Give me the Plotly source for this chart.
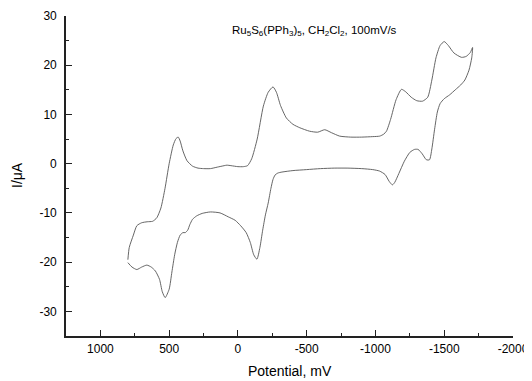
import plotly.graph_objects as go

# Cyclic voltammogram: potential (mV) and current (uA)
potential = [800, 790, 760, 735, 700, 660, 620, 590, 560, 530, 500, 470, 450, 434, 420, 400, 370,
             330, 290, 250, 200, 150, 100, 80, 50, 0, -40, -70, -100, -140, -185, -220, -255,
             -280, -310, -352, -400, -450, -521, -580, -631, -680, -740, -820, -900, -980, -1031,
             -1060, -1080, -1110, -1150, -1189, -1220, -1260, -1300, -1342, -1380, -1410, -1440,
             -1470, -1500, -1530, -1570, -1626, -1660, -1690, -1706,
             -1700, -1680, -1650, -1620, -1580, -1540, -1500, -1470, -1450, -1430, -1410, -1393,
             -1370, -1340, -1310, -1284, -1250, -1210, -1170, -1140, -1123, -1100, -1070, -1030,
             -980, -900, -800, -700, -600, -500, -400, -320, -290, -270, -255, -240, -220, -200,
             -180, -160, -138, -115, -90, -60, -20, 20, 70, 130, 200, 260, 300, 330, 350, 365, 383,
             400, 420, 440, 460, 480, 500, 529, 550, 570, 600, 630, 662, 700, 735, 770, 800]
current = [-19.5, -17.0, -14.5, -12.6, -12.0, -11.8, -11.7, -11.0, -9.0, -5.0, 0.0, 3.8, 5.1, 5.4, 4.6, 2.6, 0.6,
           -0.5, -0.9, -1.0, -1.0, -0.7, -0.4, -0.3, -0.4, -0.6, -0.6, -0.4, 1.0, 5.0, 11.7, 14.5, 15.6,
           14.5, 11.8, 9.3, 8.0, 7.3, 6.6, 6.4, 6.9, 6.3, 5.6, 5.4, 5.4, 5.5, 5.6,
           6.0, 6.6, 9.0, 13.0, 15.1, 14.6, 13.5, 12.8, 12.7, 13.5, 17.0, 21.5,
           24.0, 24.8, 24.0, 22.5, 21.6, 21.8, 22.6, 23.6,
           21.5, 19.0, 17.0, 16.0, 15.0, 14.0, 13.2, 12.2, 10.5, 7.0, 3.0, 0.8,
           0.8, 2.0, 2.9, 2.9, 2.3, 0.5, -2.0, -3.8, -4.3, -3.6, -2.2, -1.5,
           -1.2, -1.0, -0.9, -0.9, -1.0, -1.2, -1.4, -1.7, -1.9, -2.3, -3.2, -5.0, -8.0, -10.4,
           -13.5, -17.0, -19.4, -18.5, -16.0, -14.0, -12.6, -11.5, -10.8, -10.0, -9.8, -10.1, -10.6, -11.3, -12.4, -13.5, -14.0,
           -14.0, -14.5, -16.0, -18.5, -22.0, -25.5, -27.2, -26.0, -23.5, -21.8, -21.0, -20.6, -21.0, -21.5, -21.0, -20.1]

title_text = "Ru<sub>5</sub>S<sub>6</sub>(PPh<sub>3</sub>)<sub>5</sub>, CH<sub>2</sub>Cl<sub>2</sub>, 100mV/s"
x_title = "Potential, mV"
y_title = "I/μA"
x_ticks = [1000, 500, 0, -500, -1000, -1500, -2000]
y_ticks = [30, 20, 10, 0, -10, -20, -30]

# The page body has an 8px default margin, so margins are shifted to compensate
W, H = 532, 381
L, R, T, B = 58, 27, 8, 53
OFF = 8
pw, ph = W - L - R, H - T - B


def px_to_paper(sx, sy):
    fx, fy = sx - OFF, sy - OFF
    return (fx - L) / pw, (H - B - fy) / ph


xt_x, xt_y = px_to_paper(290, 371)
yt_x, yt_y = px_to_paper(17, 175)

fig = go.Figure()
fig.add_trace(go.Scatter(x=potential, y=current, mode="lines",
                         line=dict(color="#555555", width=0.9, shape="spline", smoothing=0.6),
                         showlegend=False, hoverinfo="skip"))

font_family = "Liberation Sans, Arial, sans-serif"
fig.update_layout(
    width=W, height=H,
    margin=dict(l=L, r=R, t=T, b=B, autoexpand=False),
    paper_bgcolor="white", plot_bgcolor="white",
    font=dict(family=font_family, color="black", size=12),
    annotations=[
        dict(text=title_text, x=-560, y=27, xref="x", yref="y", showarrow=False,
             font=dict(size=11.5, family=font_family, color="black"), xanchor="center", yanchor="middle"),
        dict(text=x_title, x=xt_x, y=xt_y, xref="paper", yref="paper", showarrow=False,
             font=dict(size=14, family=font_family, color="black"), xanchor="center", yanchor="middle"),
        dict(text=y_title, x=yt_x, y=yt_y, xref="paper", yref="paper", showarrow=False, textangle=-90,
             font=dict(size=14, family=font_family, color="black"), xanchor="center", yanchor="middle"),
    ],
)

fig.update_xaxes(range=[1250, -2000], tickvals=x_ticks, ticktext=[str(v) for v in x_ticks],
                 ticks="inside", ticklen=6, tickwidth=1.3, tickcolor="#222", automargin=False,
                 showline=True, linecolor="#222", linewidth=1.6, showgrid=False, zeroline=False,
                 minor=dict(tickvals=[750, 250, -250, -750, -1250, -1750], ticks="inside", ticklen=3, tickcolor="#222", tickwidth=1.3),
                 ticklabelstandoff=1, tickfont=dict(size=12))
fig.update_yaxes(range=[-35, 30], tickvals=y_ticks, ticktext=[str(v) for v in y_ticks],
                 ticks="inside", ticklen=6, tickwidth=1.3, tickcolor="#222", automargin=False,
                 showline=True, linecolor="#222", linewidth=1.6, showgrid=False, zeroline=False,
                 minor=dict(tickvals=[25, 15, 5, -5, -15, -25], ticks="inside", ticklen=3, tickcolor="#222", tickwidth=1.3),
                 ticklabelstandoff=5, tickfont=dict(size=12))

fig.write_html("out.html")
